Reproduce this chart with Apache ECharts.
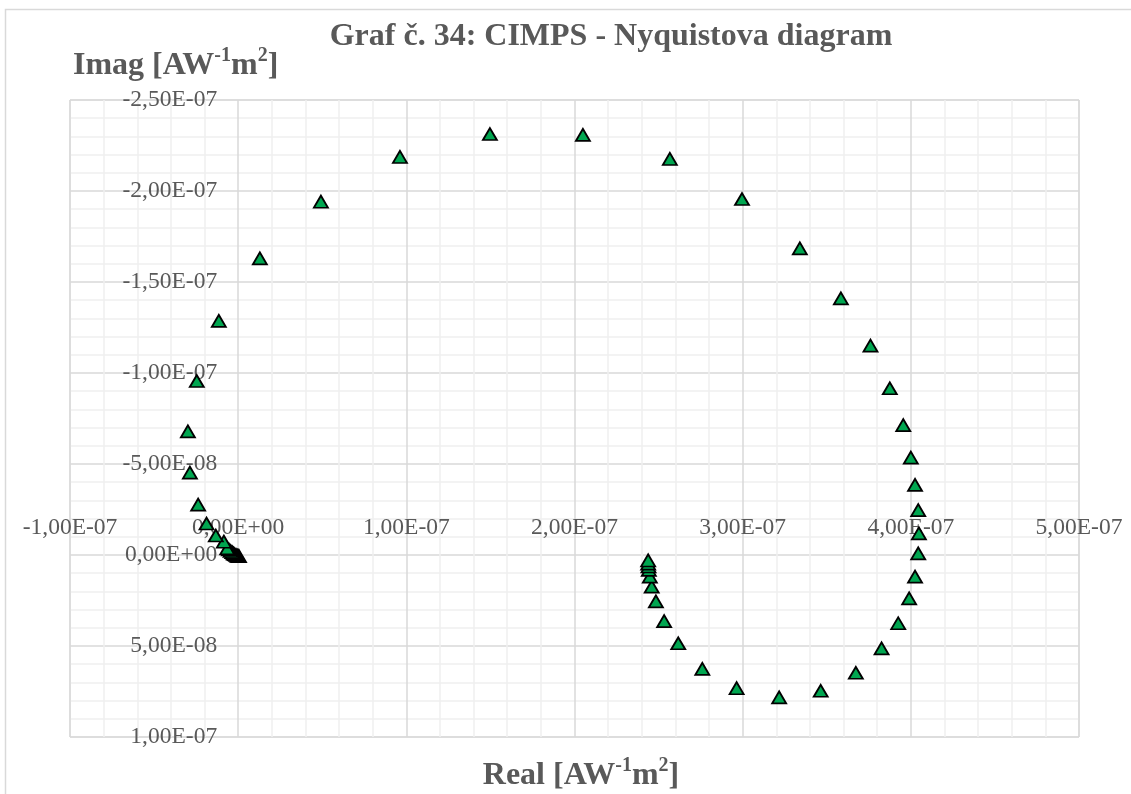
<!DOCTYPE html>
<html>
<head>
<meta charset="utf-8">
<script src="https://cdn.jsdelivr.net/npm/echarts@6/dist/echarts.min.js"></script>
<style>html,body{margin:0;padding:0;background:#fff;}#c{width:1131px;height:794px;}</style>
</head>
<body>
<div id="c"></div>
<script>
var realPart = [
  0.5e-9, 0, -0.5e-9, -1.2e-9, -2.0e-9, -2.7e-9, -3.5e-9, -4.5e-9, -5.5e-9, -6.5e-9,
  -8.5e-9, -1.33e-8, -1.88e-8, -2.38e-8, -2.87e-8, -2.99e-8, -2.46e-8, -1.15e-8, 1.29e-8, 4.92e-8,
  9.62e-8, 1.497e-7, 2.05e-7, 2.567e-7, 2.996e-7, 3.34e-7, 3.584e-7, 3.76e-7, 3.875e-7, 3.955e-7,
  4.0e-7, 4.025e-7, 4.044e-7, 4.048e-7, 4.044e-7, 4.025e-7, 3.99e-7, 3.925e-7, 3.826e-7, 3.673e-7,
  3.464e-7, 3.217e-7, 2.964e-7, 2.76e-7, 2.617e-7, 2.533e-7, 2.484e-7, 2.459e-7, 2.448e-7, 2.442e-7,
  2.44e-7, 2.438e-7, 2.438e-7
];
var imagPart = [
  0.6e-9, 0.5e-9, 0.3e-9, 0, -0.4e-9, -0.9e-9, -1.5e-9, -2.2e-9, -3.0e-9, -3.6e-9,
  -7.3e-9, -1.07e-8, -1.73e-8, -2.77e-8, -4.53e-8, -6.79e-8, -9.56e-8, -1.286e-7, -1.63e-7, -1.941e-7,
  -2.187e-7, -2.313e-7, -2.308e-7, -2.176e-7, -1.956e-7, -1.685e-7, -1.41e-7, -1.15e-7, -9.16e-8, -7.14e-8,
  -5.35e-8, -3.85e-8, -2.47e-8, -1.19e-8, -0.9e-9, 1.19e-8, 2.38e-8, 3.75e-8, 5.13e-8, 6.47e-8,
  7.46e-8, 7.82e-8, 7.32e-8, 6.26e-8, 4.85e-8, 3.63e-8, 2.55e-8, 1.74e-8, 1.19e-8, 8.2e-9,
  6.3e-9, 4.7e-9, 3.0e-9
];
var chartTitle = 'Graf č. 34: CIMPS - Nyquistova diagram';
var xMin = -1e-7, xMax = 5e-7, xStep = 1e-7;
var yMin = -2.5e-7, yMax = 1e-7, yStep = 5e-8;

function fmt(v) {
  if (Math.abs(v) < 1e-15) return '0,00E+00';
  var p = v.toExponential(2).split('e');
  var e = parseInt(p[1], 10);
  var ae = Math.abs(e);
  return p[0].replace('.', ',') + 'E' + (e < 0 ? '-' : '+') + (ae < 10 ? '0' : '') + ae;
}

var data = realPart.map(function (r, i) { return [r, imagPart[i]]; });
var FONT = '"Liberation Serif", "Times New Roman", serif';
var GRAY = '#595959';

// plot area geometry (pixels)
var G = { left: 70, top: 100, width: 1009, height: 637 };
// offsets that move the axes onto the zero lines (axes cross at 0)
var xAxisOffset = -((0 - yMin) / (yMax - yMin)) * G.height;
var yAxisOffset = -((0 - xMin) / (xMax - xMin)) * G.width;

var nameRich = {
  b: { fontFamily: FONT, fontWeight: 'bold', fontSize: 32, color: GRAY, lineHeight: 36, verticalAlign: 'bottom' },
  s: { fontFamily: FONT, fontWeight: 'bold', fontSize: 20, color: GRAY, lineHeight: 36, verticalAlign: 'top', padding: [0, 0, 12, 0] }
};

var chart = echarts.init(document.getElementById('c'), null, { renderer: 'canvas' });
chart.setOption({
  backgroundColor: '#ffffff',
  animation: false,
  title: [
    { text: chartTitle, left: 606, top: 16, textAlign: 'center',
      textStyle: { fontFamily: FONT, fontWeight: 'bold', fontSize: 32, color: GRAY } },
    { text: '{b|Imag [AW}{s|-1}{b|m}{s|2}{b|]}', left: 68, top: 41,
      textStyle: { rich: nameRich } },
    { text: '{b|Real [AW}{s|-1}{b|m}{s|2}{b|]}', left: 576, top: 751, textAlign: 'center',
      textStyle: { rich: nameRich } }
  ],
  graphic: [
    { type: 'polyline', silent: true, shape: { points: [[5.5, 794], [5.5, 9.5], [1131, 9.5]] },
      style: { stroke: '#d9d9d9', lineWidth: 1.5, fill: null } }
  ],
  grid: { left: G.left, top: G.top, width: G.width, height: G.height, containLabel: false, outerBoundsMode: 'none',
    show: true, borderColor: '#d9d9d9', borderWidth: 1 },
  xAxis: {
    type: 'value', min: xMin, max: xMax, interval: xStep, position: 'top', offset: xAxisOffset,
    axisLine: { show: false, onZero: false },
    axisTick: { show: false },
    axisLabel: { formatter: fmt, fontFamily: FONT, fontSize: 23.5, color: GRAY, margin: 15, showMinLabel: true, showMaxLabel: true, hideOverlap: false },
    splitLine: { show: true, lineStyle: { color: '#d9d9d9', width: 1.5 } },
    minorTick: { show: false, splitNumber: 5 },
    minorSplitLine: { show: true, lineStyle: { color: '#efefef', width: 1.5 } }
  },
  yAxis: {
    type: 'value', min: yMin, max: yMax, interval: yStep, inverse: true, position: 'left', offset: yAxisOffset,
    axisLine: { show: false, onZero: false },
    axisTick: { show: false },
    axisLabel: { formatter: fmt, fontFamily: FONT, fontSize: 23.5, color: GRAY, margin: 21, showMinLabel: true, showMaxLabel: true, hideOverlap: false },
    splitLine: { show: true, lineStyle: { color: '#d9d9d9', width: 1.5 } },
    minorTick: { show: false, splitNumber: 5 },
    minorSplitLine: { show: true, lineStyle: { color: '#efefef', width: 1.5 } }
  },
  series: [{
    type: 'scatter',
    data: data,
    symbol: 'triangle',
    symbolSize: [14, 12],
    itemStyle: { color: '#00a650', borderColor: '#000000', borderWidth: 1.8, opacity: 1 },
    z: 5
  }]
});
</script>
</body>
</html>
